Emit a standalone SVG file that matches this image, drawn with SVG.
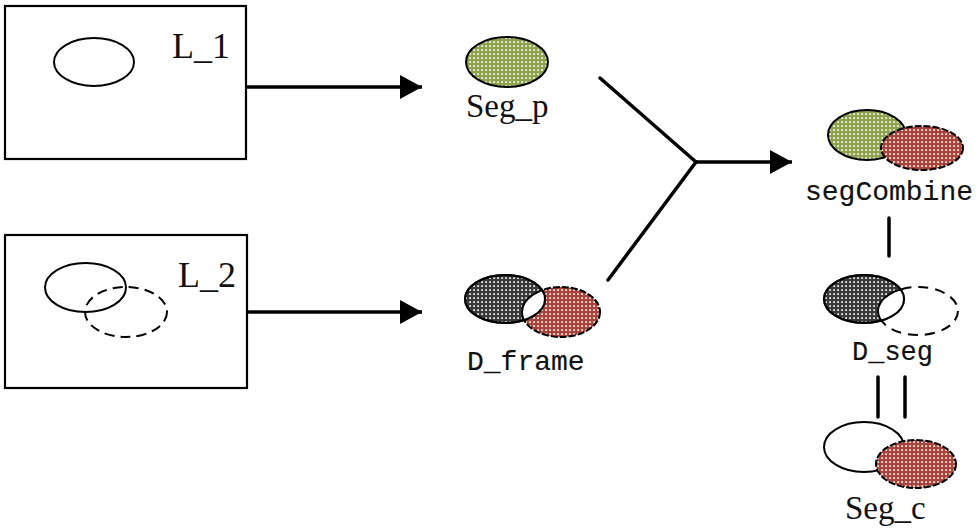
<svg xmlns="http://www.w3.org/2000/svg" width="980" height="529" viewBox="0 0 980 529">
<style>
.box{fill:none;stroke:#000;stroke-width:2.2}
.ol{fill:none;stroke:#000;stroke-width:2}
.dash{fill:none;stroke:#000;stroke-width:2;stroke-dasharray:10 6}
.rdash{stroke:#000;stroke-width:2;stroke-dasharray:7 2}
.conn{fill:none;stroke:#000;stroke-width:3.5;stroke-linecap:round}
.serif{font-family:"Liberation Serif","Times New Roman",serif;fill:#111}
.mono{font-family:"Liberation Mono","Courier New",monospace;fill:#111;stroke:#111;stroke-width:0.15}
</style>
<defs>
<pattern id="pg" width="4" height="4" patternUnits="userSpaceOnUse"><rect width="4" height="4" fill="#8fa24d"/><rect x="1.2" y="1.2" width="1.8" height="1.8" fill="#eef3de"/></pattern>
<pattern id="pr" width="4" height="4" patternUnits="userSpaceOnUse"><rect width="4" height="4" fill="#a8443c"/><rect x="1.2" y="1.2" width="1.8" height="1.8" fill="#f4e0dc"/></pattern>
<pattern id="pk" width="4" height="4" patternUnits="userSpaceOnUse"><rect width="4" height="4" fill="#3a3a3a"/><rect x="1.2" y="1.2" width="1.8" height="1.8" fill="#e6e6e6"/></pattern>
<marker id="ah" viewBox="0 0 22 24" refX="22" refY="12" markerWidth="22" markerHeight="24" markerUnits="userSpaceOnUse" orient="auto"><path d="M0,0 L22,12 L0,24 Z" fill="#000"/></marker>
<clipPath id="cgf"><ellipse cx="505" cy="299" rx="40" ry="24"/></clipPath>
<clipPath id="cgs"><ellipse cx="864" cy="299" rx="40" ry="24"/></clipPath>
</defs>

<g id="L_1">
<rect class="box" x="5" y="6" width="241" height="153"/>
<ellipse class="ol" cx="94" cy="62" rx="40" ry="24"/>
<text class="serif" x="172" y="58" font-size="36">L_1</text>
</g>

<g id="L_2">
<rect class="box" x="5" y="235" width="242" height="153"/>
<ellipse class="dash" cx="126" cy="312" rx="41" ry="25"/>
<ellipse class="ol" cx="85.5" cy="287.5" rx="40.5" ry="24.5"/>
<text class="serif" x="178" y="287" font-size="36">L_2</text>
</g>

<g id="Seg_p">
<ellipse cx="507" cy="62" rx="41" ry="25" fill="url(#pg)" stroke="#000" stroke-width="2"/>
<text class="serif" x="466" y="117" font-size="33">Seg_p</text>
</g>

<g id="D_frame">
<ellipse cx="561" cy="312" rx="39" ry="25" fill="url(#pr)" class="rdash"/>
<ellipse cx="505" cy="299" rx="40" ry="24" fill="url(#pk)" stroke="#000" stroke-width="2"/>
<ellipse cx="561" cy="312" rx="39" ry="25" fill="#fff" stroke="#000" stroke-width="2" clip-path="url(#cgf)"/>
<ellipse cx="505" cy="299" rx="40" ry="24" fill="none" stroke="#000" stroke-width="2"/>
<text class="mono" x="467" y="370" font-size="28">D_frame</text>
</g>

<g id="segCombine">
<ellipse cx="867" cy="135" rx="39" ry="25" fill="url(#pg)" stroke="#000" stroke-width="2"/>
<ellipse cx="922" cy="148" rx="41" ry="22" fill="url(#pr)" class="rdash"/>
<text class="mono" x="805" y="200" font-size="28">segCombine</text>
</g>

<g id="D_seg">
<ellipse cx="918" cy="311" rx="40" ry="24" fill="none" stroke="#000" stroke-width="2" stroke-dasharray="10 7"/>
<ellipse cx="864" cy="299" rx="40" ry="24" fill="url(#pk)" stroke="#000" stroke-width="2"/>
<ellipse cx="918" cy="311" rx="40" ry="24" fill="#fff" stroke="#000" stroke-width="2" clip-path="url(#cgs)"/>
<ellipse cx="864" cy="299" rx="40" ry="24" fill="none" stroke="#000" stroke-width="2"/>
<text class="mono" x="852" y="360" font-size="27">D_seg</text>
</g>

<g id="Seg_c">
<ellipse cx="864" cy="447" rx="40" ry="25" fill="#fff" stroke="#000" stroke-width="2"/>
<ellipse cx="916" cy="464" rx="40" ry="24" fill="url(#pr)" class="rdash"/>
<text class="serif" x="845" y="519" font-size="33">Seg_c</text>
</g>

<g id="connectors">
<line x1="247" y1="87" x2="422" y2="87" stroke="#000" stroke-width="3.5" marker-end="url(#ah)"/>
<line x1="247" y1="312" x2="422" y2="312" stroke="#000" stroke-width="3.5" marker-end="url(#ah)"/>
<line class="conn" x1="600" y1="78" x2="696" y2="162"/>
<line class="conn" x1="608" y1="280" x2="696" y2="162"/>
<line x1="694" y1="162" x2="792" y2="162" stroke="#000" stroke-width="3.5" marker-end="url(#ah)"/>
<line class="conn" x1="889" y1="218" x2="889" y2="256"/>
<line class="conn" x1="878" y1="377" x2="878" y2="417"/>
<line class="conn" x1="905" y1="377" x2="905" y2="417"/>
</g>
</svg>
